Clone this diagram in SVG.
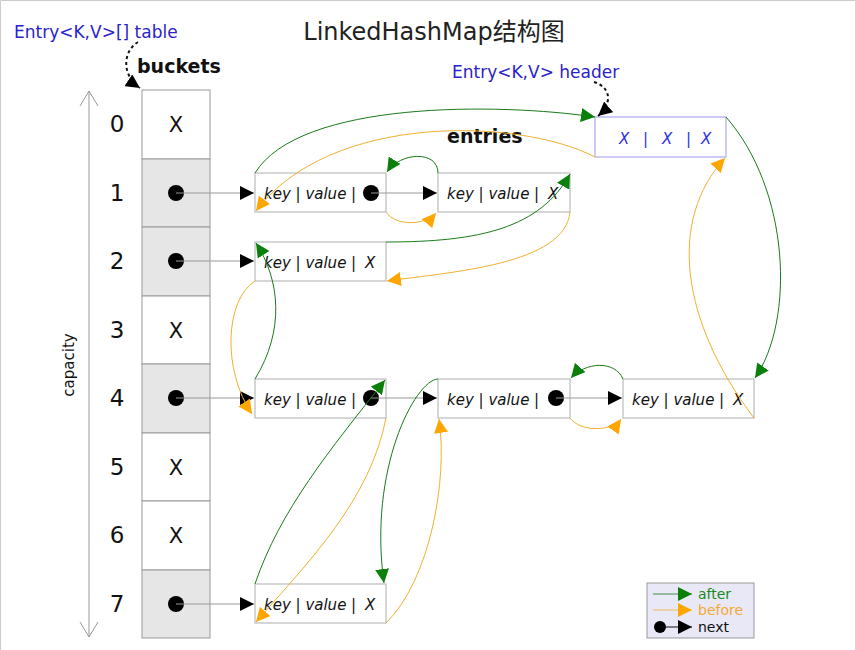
<svg xmlns="http://www.w3.org/2000/svg" width="855" height="650" viewBox="0 0 855 650">
<style>
.t{font-family:"DejaVu Sans","Noto Sans CJK SC",sans-serif}
.num{font-size:23px;fill:#111;text-anchor:middle}
.bx{font-size:21px;fill:#111;text-anchor:middle}
.blue{font-size:17px;fill:#2a22cc}
.bold{font-size:19px;font-weight:bold;fill:#111}
.kv{font-size:15px;font-style:italic;fill:#111}
.hx{font-size:15px;font-style:italic;fill:#3030dd}
.bucket{stroke:#999;stroke-width:1}
.full{fill:#e6e6e6}
.empty{fill:#fff}
.entry{fill:#fff;stroke:#bbb;stroke-width:1.2}
.next{stroke:#999;stroke-width:1;fill:none;marker-end:url(#mk)}
.after{stroke:#1a7a1a;stroke-width:1;fill:none;marker-end:url(#mg)}
.before{stroke:#f0b030;stroke-width:1;fill:none;marker-end:url(#mo)}
.dash{stroke:#111;stroke-width:2;stroke-dasharray:3,3;fill:none;marker-end:url(#mk)}
.lg{font-size:14px}
</style>
<defs>
<marker id="mk" viewBox="0 0 10 10" refX="10" refY="5" markerWidth="14" markerHeight="14" markerUnits="userSpaceOnUse" orient="auto"><path d="M0,0 L10,5 L0,10 z" fill="#000"/></marker>
<marker id="mg" viewBox="0 0 10 10" refX="10" refY="5" markerWidth="14" markerHeight="14" markerUnits="userSpaceOnUse" orient="auto"><path d="M0,0 L10,5 L0,10 z" fill="#0a800a"/></marker>
<marker id="mo" viewBox="0 0 10 10" refX="10" refY="5" markerWidth="14" markerHeight="14" markerUnits="userSpaceOnUse" orient="auto"><path d="M0,0 L10,5 L0,10 z" fill="#ffa500"/></marker>
</defs>
<rect x="0" y="0" width="855" height="650" fill="#fff"/>
<path d="M0.5,650 V0.5 H855" fill="none" stroke="#ccc"/>

<text class="t" x="434" y="40" font-size="24" fill="#222" text-anchor="middle">LinkedHashMap结构图</text>
<text class="t blue" x="14" y="38">Entry&lt;K,V&gt;[] table</text>
<text class="t bold" x="137" y="73">buckets</text>
<text class="t blue" x="452" y="78">Entry&lt;K,V&gt; header</text>
<text class="t bold" x="447" y="143">entries</text>

<g id="capacity">
<line x1="89" y1="91" x2="89" y2="637" stroke="#999" stroke-width="1"/>
<path d="M80,106 L89,91 L98,106 M80,622 L89,637 L98,622" fill="none" stroke="#999" stroke-width="1"/>
<text class="t" x="0" y="0" font-size="15" fill="#111" text-anchor="middle" transform="translate(74,365) rotate(-90)">capacity</text>
</g>

<g id="buckets">
<rect class="bucket empty" x="142" y="90" width="68" height="69"/>
<rect class="bucket full" x="142" y="159" width="68" height="68"/>
<rect class="bucket full" x="142" y="227" width="68" height="69"/>
<rect class="bucket empty" x="142" y="296" width="68" height="68"/>
<rect class="bucket full" x="142" y="364" width="68" height="69"/>
<rect class="bucket empty" x="142" y="433" width="68" height="68"/>
<rect class="bucket empty" x="142" y="501" width="68" height="69"/>
<rect class="bucket full" x="142" y="570" width="68" height="68"/>
<text class="t num" x="117" y="132">0</text>
<text class="t num" x="117" y="201">1</text>
<text class="t num" x="117" y="269">2</text>
<text class="t num" x="117" y="338">3</text>
<text class="t num" x="117" y="406">4</text>
<text class="t num" x="117" y="475">5</text>
<text class="t num" x="117" y="543">6</text>
<text class="t num" x="117" y="612">7</text>
<text class="t bx" x="176" y="132">X</text>
<text class="t bx" x="176" y="338">X</text>
<text class="t bx" x="176" y="475">X</text>
<text class="t bx" x="176" y="543">X</text>
<circle cx="176" cy="193" r="8"/>
<circle cx="176" cy="261" r="8"/>
<circle cx="176" cy="398" r="8"/>
<circle cx="176" cy="604" r="8"/>
</g>

<g id="header">
<rect x="595" y="117" width="131" height="40" fill="#fff" stroke="#aaaaee" stroke-width="1.2"/>
<text class="t hx" x="619" y="144">X</text>
<text class="t hx" x="643" y="144">|</text>
<text class="t hx" x="662" y="144">X</text>
<text class="t hx" x="686" y="144">|</text>
<text class="t hx" x="701" y="144">X</text>
</g>

<g id="e1a">
<rect class="entry" x="255" y="173" width="131" height="39"/>
<text class="t kv" x="264" y="199">key | value |</text>
<circle cx="371" cy="193" r="8"/>
</g>
<g id="e1b">
<rect class="entry" x="438" y="173" width="132" height="39"/>
<text class="t kv" x="447" y="199">key | value |</text>
<text class="t kv" x="548" y="199">X</text>
</g>
<g id="e2">
<rect class="entry" x="255" y="242" width="131" height="39"/>
<text class="t kv" x="264" y="268">key | value |</text>
<text class="t kv" x="365" y="268">X</text>
</g>
<g id="e4a">
<rect class="entry" x="255" y="379" width="131" height="39"/>
<text class="t kv" x="264" y="405">key | value |</text>
<circle cx="371" cy="398" r="8"/>
</g>
<g id="e4b">
<rect class="entry" x="438" y="379" width="132" height="39"/>
<text class="t kv" x="447" y="405">key | value |</text>
<circle cx="556" cy="398" r="8"/>
</g>
<g id="e4c">
<rect class="entry" x="623" y="379" width="131" height="39"/>
<text class="t kv" x="632" y="405">key | value |</text>
<text class="t kv" x="733" y="405">X</text>
</g>
<g id="e7">
<rect class="entry" x="255" y="584" width="131" height="39"/>
<text class="t kv" x="264" y="610">key | value |</text>
<text class="t kv" x="365" y="610">X</text>
</g>

<g id="connectors">
<path class="dash" d="M138,42 C122,52 122,76 140,88"/>
<path class="dash" d="M594,82 C612,88 612,104 598,116"/>
<path class="next" d="M176,193 H254"/>
<path class="next" d="M176,261 H254"/>
<path class="next" d="M176,398 H254"/>
<path class="next" d="M176,604 H254"/>
<path class="next" d="M371,193 H437"/>
<path class="next" d="M371,398 H437"/>
<path class="next" d="M556,398 H622"/>

<path class="after" d="M255,173 C300,100 500,103 595,117"/>
<path class="before" d="M595,157 C520,118 330,112 256,211"/>
<path class="after" d="M438,173 C438,150 400,152 387,172"/>
<path class="before" d="M386,212 C395,226 425,226 436,213"/>
<path class="after" d="M386,242 C480,242 540,228 570,174"/>
<path class="before" d="M570,212 C565,265 450,272 387,281"/>
<path class="after" d="M255,379 C285,330 280,280 256,243"/>
<path class="before" d="M255,281 C225,300 222,370 252,414"/>
<path class="after" d="M255,584 C280,510 330,450 385,380"/>
<path class="before" d="M386,418 C370,500 310,560 256,622"/>
<path class="after" d="M438,379 C415,380 368,470 384,583"/>
<path class="before" d="M386,623 C430,580 448,480 439,419"/>
<path class="after" d="M623,379 C615,360 585,362 571,378"/>
<path class="before" d="M570,418 C580,432 612,432 621,419"/>
<path class="after" d="M726,117 C790,190 795,320 755,378"/>
<path class="before" d="M754,418 C680,320 668,220 725,158"/>
</g>

<g id="legend">
<rect x="647" y="583" width="107" height="55" fill="#e8e8f6" stroke="#999" stroke-width="1"/>
<path d="M653,594 H692" stroke="#1a7a1a" stroke-width="0.8" marker-end="url(#mg)"/>
<path d="M653,610 H692" stroke="#f0b030" stroke-width="0.8" marker-end="url(#mo)"/>
<circle cx="660" cy="627" r="6"/>
<path d="M660,627 H692" stroke="#111" stroke-width="1" marker-end="url(#mk)"/>
<text class="t lg" x="698" y="599" fill="#1a8a1a">after</text>
<text class="t lg" x="698" y="615" fill="#f5a833">before</text>
<text class="t lg" x="698" y="632" fill="#111">next</text>
</g>
</svg>
